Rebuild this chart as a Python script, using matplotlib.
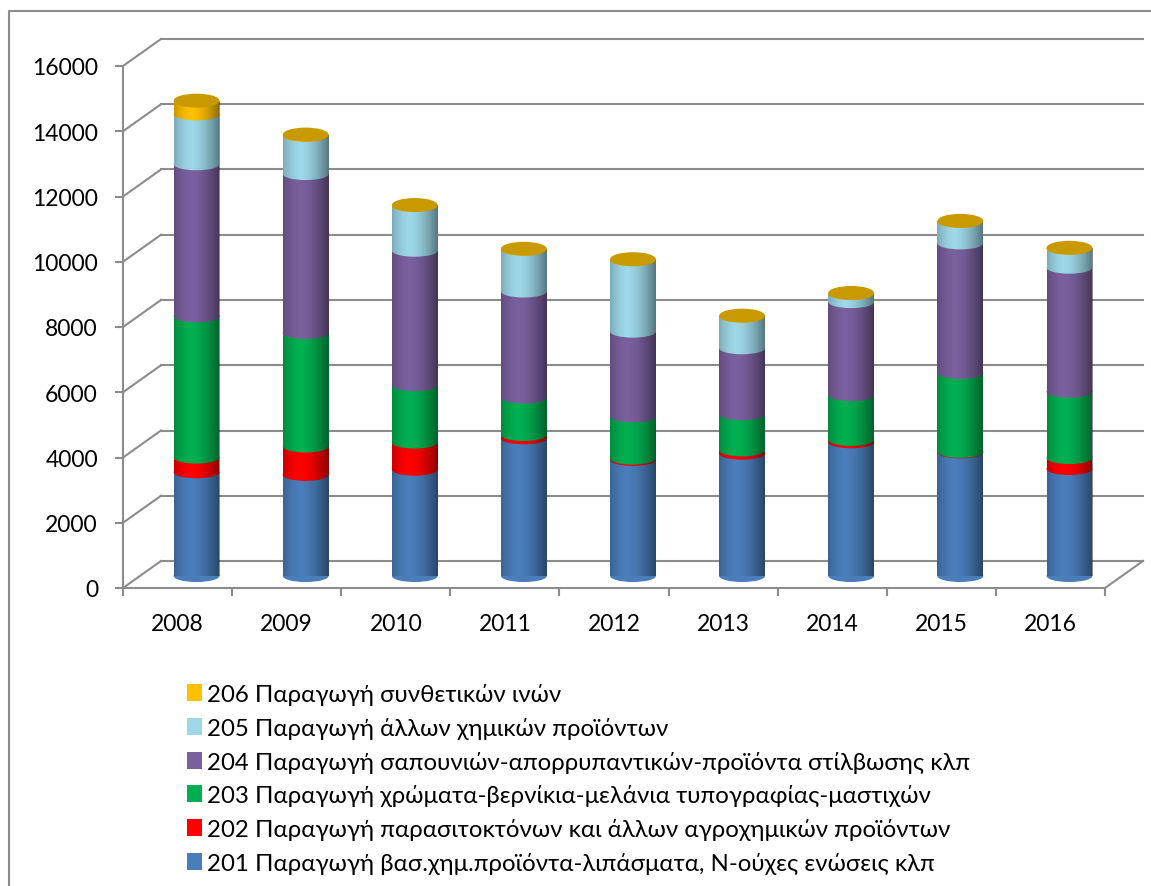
import numpy as np
import matplotlib
matplotlib.use('Agg')
import matplotlib.pyplot as plt
from matplotlib.patches import Ellipse, Rectangle, Patch
from matplotlib.lines import Line2D

plt.rcParams['font.family'] = ['Lato', 'DejaVu Sans']

years = ['2008', '2009', '2010', '2011', '2012', '2013', '2014', '2015', '2016']
s201 = [3180, 3100, 3260, 4220, 3560, 3750, 4100, 3790, 3280]
s202 = [450, 870, 830, 100, 40, 100, 70, 15, 335]
s203 = [4330, 3480, 1760, 1150, 1290, 1110, 1375, 2420, 2035]
s204 = [4660, 4870, 4120, 3250, 2600, 2020, 2850, 3970, 3800]
s205 = [1530, 1170, 1370, 1280, 2190, 970, 250, 660, 580]
s206 = [420, 40, 30, 30, 30, 30, 30, 30, 30]
names = ['201 Παραγωγή βασ.χημ.προϊόντα-λιπάσματα, Ν-ούχες ενώσεις κλπ',
         '202 Παραγωγή παρασιτοκτόνων και άλλων αγροχημικών προϊόντων',
         '203 Παραγωγή χρώματα-βερνίκια-μελάνια τυπογραφίας-μαστιχών',
         '204 Παραγωγή σαπουνιών-απορρυπαντικών-προϊόντα στίλβωσης κλπ',
         '205 Παραγωγή άλλων χημικών προϊόντων',
         '206 Παραγωγή συνθετικών ινών']
series = [s201, s202, s203, s204, s205, s206]
colors = ['#4A7EBB', '#FF0000', '#00B050', '#7B609F', '#9DD8E8', '#FFC000']
cap_color = '#C99A00'
grid_c = '#8C8C8C'

W, H = 1151, 887
fig = plt.figure(figsize=(W / 100, H / 100), dpi=100)
x0, x1, y0, y1 = 123, 1105, 589, 67
ax = fig.add_axes([x0 / W, 1 - y0 / H, (x1 - x0) / W, (y0 - y1) / H])
ymax = 16000
ncat = len(years)
ppx = (x1 - x0) / ncat
ppy = (y0 - y1) / ymax

# depth offsets (pixels -> data)
bx, by = 38 / ppx, 27 / ppy
mx, my = 19 / ppx, 12 / ppy

# back wall, left wall, floor
for v in range(0, ymax + 1, 2000):
    ax.plot([bx, ncat + bx], [v + by, v + by], color=grid_c, lw=1.5, clip_on=False, zorder=1)
    ax.plot([0, bx], [v, v + by], color=grid_c, lw=1.5, clip_on=False, zorder=1)
ax.plot([ncat, ncat + bx], [0, by], color=grid_c, lw=1.5, clip_on=False, zorder=1)

# cylinders
w = 0.42
eh = 12 / ppy
grad_t = np.linspace(0, 1, 64)
alpha = 0.45 * (np.abs(grad_t - 0.38) / 0.62) ** 1.6
grad = np.zeros((1, 64, 4))
grad[..., 3] = alpha
for i in range(ncat):
    xc = i + 0.5 + mx
    b = my
    z = 5
    for k, s in enumerate(series):
        h = s[i]
        ax.add_patch(Ellipse((xc, b), w, eh, color=colors[k], lw=0, zorder=z))
        ax.add_patch(Rectangle((xc - w / 2, b), w, h, color=colors[k], lw=0, zorder=z + 1))
        b += h
        z += 2
    clip = Rectangle((xc - w / 2, my), w, b - my, transform=ax.transData)
    im = ax.imshow(grad, extent=(xc - w / 2, xc + w / 2, my, b), aspect='auto',
                   zorder=z, interpolation='bilinear')
    im.set_clip_path(clip)
    ax.add_patch(Ellipse((xc, b), w, 14 / ppy, color=cap_color, lw=0, zorder=z + 1))

ax.set_xlim(0, ncat)
ax.set_ylim(0, ymax)
ax.patch.set_visible(False)
for sp in ['top', 'right']:
    ax.spines[sp].set_visible(False)
for sp in ['left', 'bottom']:
    ax.spines[sp].set_color(grid_c)
    ax.spines[sp].set_linewidth(1.5)

ax.set_yticks(range(0, ymax + 1, 2000))
ax.set_yticklabels([str(v) for v in range(0, ymax + 1, 2000)], fontsize=16.5)
ax.set_xticks(range(ncat + 1))
ax.set_xticklabels([])
ax.set_xticks(np.arange(ncat) + 0.5, minor=True)
ax.set_xticklabels(years, minor=True, fontsize=16.5)
ax.tick_params(axis='y', length=6, width=1.5, color=grid_c, pad=12)
ax.tick_params(axis='x', which='major', length=6, width=1.5, color=grid_c)
ax.tick_params(axis='x', which='minor', length=0, pad=18)

# legend
handles = [Patch(facecolor=c, edgecolor='none') for c in colors][::-1]
fig.legend(handles, names[::-1], loc='upper left', bbox_to_anchor=(187 / W, 1 - 684 / H),
           frameon=False, fontsize=17.3, handlelength=0.62, handleheight=0.72,
           handletextpad=0.2, labelspacing=0.49, borderpad=0, borderaxespad=0)

# outer frame
fig.add_artist(Line2D([9 / W, 9 / W, 1.0], [0.0, 1 - 12 / H, 1 - 12 / H],
                      color=grid_c, lw=1.5, transform=fig.transFigure))

fig.savefig('out.png', dpi=100)
